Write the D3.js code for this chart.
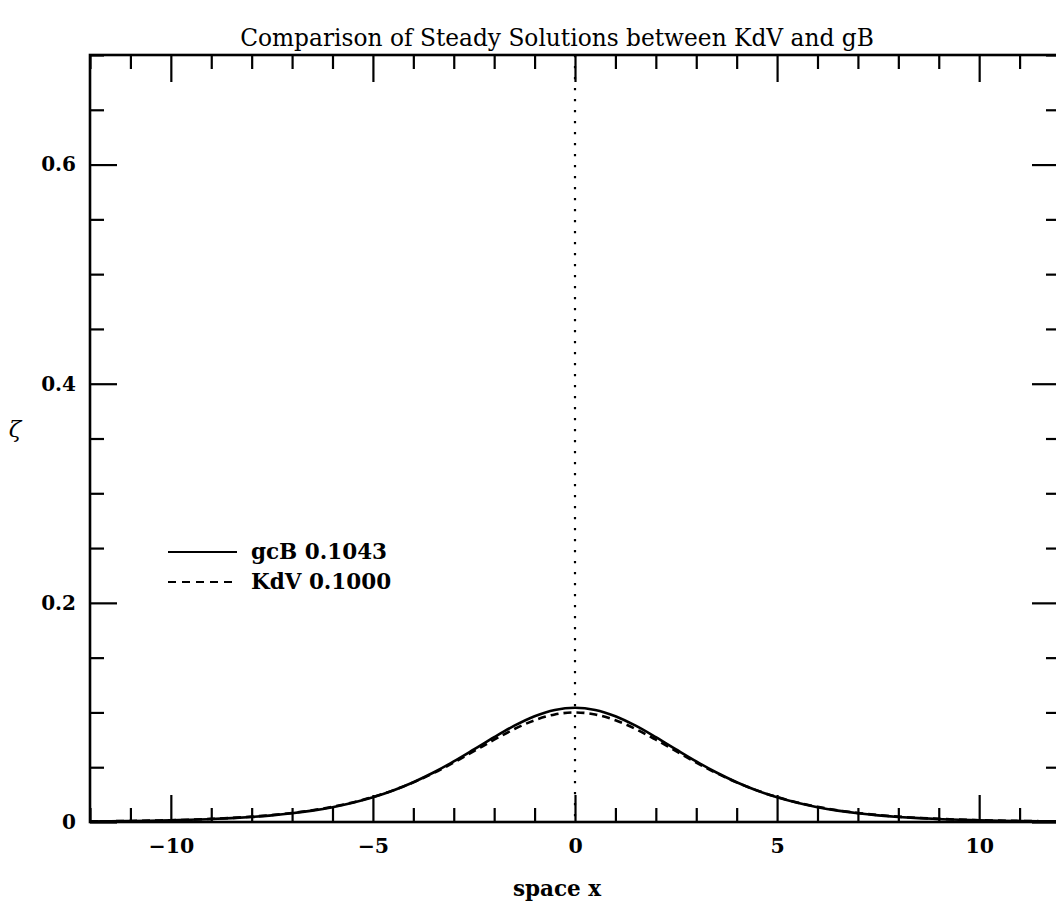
<!DOCTYPE html>
<html><head><meta charset="utf-8">
<script src="https://cdn.jsdelivr.net/npm/d3@7"></script>
<style>
html,body{margin:0;padding:0;background:#fff;}
svg{display:block;}
</style></head>
<body>
<svg id="c" width="1056" height="913"></svg>
<script>
const xValues = [-12,-11.5,-11,-10.5,-10,-9.5,-9,-8.5,-8,-7.5,-7,-6.5,-6,-5.5,-5,-4.5,-4,-3.5,-3,-2.5,-2,-1.5,-1,-0.5,0,0.5,1,1.5,2,2.5,3,3.5,4,4.5,5,5.5,6,6.5,7,7.5,8,8.5,9,9.5,10,10.5,11,11.5,12];
const gcBValues = [0.00050,0.00066,0.00088,0.00116,0.00153,0.00202,0.00267,0.00351,0.00462,0.00607,0.00796,0.01040,0.01353,0.01753,0.02254,0.02875,0.03628,0.04515,0.05524,0.06620,0.07739,0.08787,0.09653,0.10228,0.10430,0.10228,0.09653,0.08787,0.07739,0.06620,0.05524,0.04515,0.03628,0.02875,0.02254,0.01753,0.01353,0.01040,0.00796,0.00607,0.00462,0.00351,0.00267,0.00202,0.00153,0.00116,0.00088,0.00066,0.00050];
const kdvValues = [0.00056,0.00073,0.00096,0.00126,0.00165,0.00217,0.00284,0.00372,0.00487,0.00635,0.00827,0.01073,0.01388,0.01784,0.02279,0.02886,0.03615,0.04467,0.05428,0.06463,0.07510,0.08484,0.09285,0.09815,0.10000,0.09815,0.09285,0.08484,0.07510,0.06463,0.05428,0.04467,0.03615,0.02886,0.02279,0.01784,0.01388,0.01073,0.00827,0.00635,0.00487,0.00372,0.00284,0.00217,0.00165,0.00126,0.00096,0.00073,0.00056];
const seriesNames = ["gcB 0.1043", "KdV 0.1000"];
const xMajorTicks = [-10,-5,0,5,10];
const xMinorTicks = [-12,-11,-9,-8,-7,-6,-4,-3,-2,-1,1,2,3,4,6,7,8,9,11,12];
const yMajorTicks = [0,0.2,0.4,0.6];
const yMinorTicks = [0.05,0.1,0.15,0.25,0.3,0.35,0.45,0.5,0.55,0.65,0.7];
const titleText = "Comparison of Steady Solutions between KdV and gB";
const xLabelText = "space x";
const yLabelText = "ζ";

const svg = d3.select("#c");
const L = 90, R = 1060, T = 55, B = 822;
const x = d3.scaleLinear().domain([-12,12]).range([L,R]);
const y = d3.scaleLinear().domain([0,0.7]).range([B,T]);
const serif = "'DejaVu Serif', serif";
const fmtY = d => d === 0 ? "0" : d3.format(".1f")(d);

function styleAxis(g, w) {
  g.selectAll(".tick line").attr("stroke","#000").attr("stroke-width",w);
  g.selectAll(".domain").remove();
  g.selectAll("text").attr("fill","#000");
}
// bottom
const gb = svg.append("g").attr("transform",`translate(0,${B})`);
gb.call(d3.axisBottom(x).tickValues(xMajorTicks).tickSize(-27).tickPadding(16.5).tickFormat(d3.format("d")))
  .attr("font-family",serif).attr("font-size",20.5).attr("font-weight","bold");
styleAxis(gb, 2.2);
const gb2 = svg.append("g").attr("transform",`translate(0,${B})`);
gb2.call(d3.axisBottom(x).tickValues(xMinorTicks).tickSize(-14).tickFormat(""));
styleAxis(gb2, 2.2);
// top
const gt = svg.append("g").attr("transform",`translate(0,${T})`);
gt.call(d3.axisTop(x).tickValues(xMajorTicks).tickSize(-27).tickFormat(""));
styleAxis(gt, 2.2);
const gt2 = svg.append("g").attr("transform",`translate(0,${T})`);
gt2.call(d3.axisTop(x).tickValues(xMinorTicks).tickSize(-14).tickFormat(""));
styleAxis(gt2, 2.2);
// left
const gl = svg.append("g").attr("transform",`translate(${L},0)`);
gl.call(d3.axisLeft(y).tickValues(yMajorTicks).tickSize(-27).tickPadding(14).tickFormat(fmtY))
  .attr("font-family",serif).attr("font-size",20).attr("font-weight","bold");
styleAxis(gl, 2.2);
const gl2 = svg.append("g").attr("transform",`translate(${L},0)`);
gl2.call(d3.axisLeft(y).tickValues(yMinorTicks).tickSize(-14).tickFormat(""));
styleAxis(gl2, 2.2);
// right
const gr = svg.append("g").attr("transform",`translate(${R},0)`);
gr.call(d3.axisRight(y).tickValues(yMajorTicks).tickSize(-28).tickFormat(""));
styleAxis(gr, 2.2);
const gr2 = svg.append("g").attr("transform",`translate(${R},0)`);
gr2.call(d3.axisRight(y).tickValues(yMinorTicks).tickSize(-14).tickFormat(""));
styleAxis(gr2, 2.2);

// frame
svg.append("rect").attr("x",L).attr("y",T).attr("width",R-L).attr("height",B-T)
  .attr("fill","none").attr("stroke","#000").attr("stroke-width",2.6);

// dotted vertical at x=0
svg.append("line").attr("x1",x(0)).attr("x2",x(0)).attr("y1",T).attr("y2",B)
  .attr("stroke","#000").attr("stroke-width",2.2).attr("stroke-dasharray","2.2,8.8");

const line = (vals) => d3.line().x((d,i)=>x(xValues[i])).y(d=>y(d)).curve(d3.curveCatmullRom)(vals);
svg.append("path").attr("d",line(kdvValues)).attr("fill","none").attr("stroke","#000")
  .attr("stroke-width",2.6).attr("stroke-dasharray","8,5");
svg.append("path").attr("d",line(gcBValues)).attr("fill","none").attr("stroke","#000")
  .attr("stroke-width",2.6);

// legend
const lg = svg.append("g").attr("font-family",serif).attr("font-size",21.5).attr("font-weight","bold");
const legY = [552, 582];
const dashes = [null, "8,6"];
seriesNames.forEach((n,i)=>{
  lg.append("line").attr("x1",168).attr("x2",237).attr("y1",legY[i]).attr("y2",legY[i])
    .attr("stroke","#000").attr("stroke-width",2).attr("stroke-dasharray",dashes[i]);
  lg.append("text").attr("x",251).attr("y",legY[i]+7).text(n);
});

// titles
svg.append("text").attr("x",557).attr("y",46).attr("text-anchor","middle")
  .attr("font-family",serif).attr("font-size",23.3).text(titleText);
svg.append("text").attr("x",557).attr("y",896).attr("text-anchor","middle")
  .attr("font-family",serif).attr("font-size",21.5).attr("font-weight","bold").text(xLabelText);
svg.append("text").attr("x",15).attr("y",437).attr("text-anchor","middle")
  .attr("font-family",serif).attr("font-style","italic").attr("font-size",23).text(yLabelText);
</script>
</body></html>
